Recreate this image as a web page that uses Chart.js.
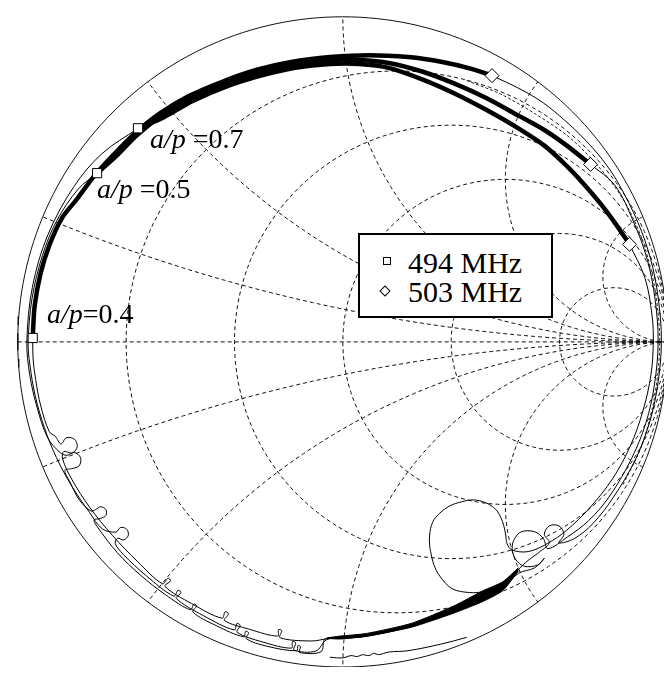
<!DOCTYPE html>
<html>
<head>
<meta charset="utf-8">
<script src="https://cdn.jsdelivr.net/npm/chart.js@4"></script>
<style>
  body { margin: 0; background: #fff; }
  #wrap { position: relative; width: 672px; height: 675px; overflow: hidden; }
  #smith { position: absolute; left: 0; top: 0; }
  .lbl { position: absolute; font-family: "Liberation Serif", "DejaVu Serif", serif; font-size: 28px; line-height: 28px; white-space: nowrap; color: #000; }
  .lbl i { font-style: italic; }
  #legend { position: absolute; left: 358px; top: 233px; width: 195px; height: 85px; box-sizing: border-box; border: 2px solid #000; background: #fff; }
  .legtxt { position: absolute; font-family: "Liberation Serif", "DejaVu Serif", serif; font-size: 30px; line-height: 30px; white-space: nowrap; }
  .mk { position: absolute; box-sizing: border-box; border: 1px solid #000; background: #fff; }
</style>
</head>
<body>
<div id="wrap">
  <canvas id="smith" width="672" height="675"></canvas>
  <div class="lbl" style="left:150px; top:125px;"><i>a/p</i> =0.7</div>
  <div class="lbl" style="left:97px; top:175px;"><i>a/p</i> =0.5</div>
  <div class="lbl" style="left:47px; top:300px;"><i>a/p</i>=0.4</div>
  <div id="legend"></div>
  <div class="mk" style="left:383px; top:257px; width:8px; height:8px;"></div>
  <div class="legtxt" style="left:408px; top:248px;">494 MHz</div>
  <div class="mk" style="left:381px; top:287px; width:8px; height:8px; transform:rotate(45deg);"></div>
  <div class="legtxt" style="left:408px; top:277px;">503 MHz</div>
</div>
<script>
// 格線：等電阻圓與等電抗圓
const resistanceValues = [0.2, 0.5, 1, 2, 5];
const reactanceValues = [0.2, 0.5, 1, 2, 5];

// 反射係數 (Re, Im)，494 MHz -> 503 MHz 的粗線段
const band04 = [
  [-0.954,0.012],[-0.948,0.111],[-0.930,0.210],[-0.903,0.297],[-0.864,0.381],[-0.819,0.438],
  [-0.765,0.510],[-0.705,0.576],[-0.639,0.642],[-0.564,0.702],[-0.474,0.756],[-0.369,0.801],
  [-0.264,0.837],[-0.159,0.861],[-0.039,0.876],[0.081,0.882],[0.201,0.876],[0.306,0.861],
  [0.396,0.840],[0.459,0.819]
];
const band05 = [
  [-0.756,0.519],[-0.699,0.570],[-0.633,0.636],[-0.558,0.696],[-0.468,0.750],[-0.363,0.795],
  [-0.258,0.828],[-0.153,0.852],[-0.039,0.867],[0.051,0.867],[0.141,0.858],[0.246,0.831],
  [0.342,0.795],[0.441,0.750],[0.540,0.696],[0.621,0.651],[0.690,0.603],[0.762,0.546]
];
const band07 = [
  [-0.630,0.657],[-0.552,0.690],[-0.462,0.741],[-0.357,0.786],[-0.252,0.819],[-0.147,0.843],
  [-0.039,0.855],[0.051,0.855],[0.141,0.843],[0.246,0.807],[0.342,0.765],[0.441,0.714],
  [0.540,0.657],[0.621,0.603],[0.690,0.540],[0.741,0.486],[0.792,0.426],[0.837,0.366],[0.882,0.300]
];

// 其餘頻率的細線 (從菱形順時針回到方形)
const tail04 = [
  [0.459,0.819],[0.545,0.778],[0.617,0.735],[0.682,0.682],[0.743,0.624],[0.799,0.560],[0.847,0.489],
  [0.908,0.367],[0.947,0.254],[0.970,0.136],[0.980,0.000],[0.968,-0.136],[0.942,-0.253],[0.899,-0.364],
  [0.831,-0.480],[0.769,-0.559],[0.712,-0.605],
  [0.665,-0.618],[0.680,-0.592],[0.665,-0.566],[0.635,-0.566],[0.620,-0.592],[0.635,-0.618],
  [0.600,-0.650],[0.570,-0.672],[0.540,-0.700],[0.492,-0.752],[0.432,-0.782],[0.342,-0.822],
  [0.210,-0.871],[0.072,-0.902],[-0.009,-0.910],[-0.048,-0.913],
  [-0.097,-0.920],[-0.193,-0.910],[-0.188,-0.888],[-0.198,-0.885],[-0.200,-0.905],[-0.287,-0.884],
  [-0.364,-0.857],[-0.352,-0.837],[-0.362,-0.830],[-0.372,-0.850],[-0.465,-0.805],[-0.547,-0.752],
  [-0.530,-0.735],[-0.538,-0.727],[-0.555,-0.744],[-0.631,-0.676],[-0.709,-0.595],[-0.780,-0.507],
  [-0.833,-0.424],[-0.862,-0.360],
  [-0.858,-0.337],[-0.833,-0.342],[-0.817,-0.322],[-0.826,-0.299],[-0.851,-0.295],[-0.867,-0.314],
  [-0.885,-0.290],[-0.903,-0.276],[-0.929,-0.198],[-0.945,-0.116],[-0.953,-0.050],[-0.954,0.012]
];
const tail05 = [
  [0.762,0.546],[0.836,0.483],[0.897,0.363],[0.937,0.251],[0.960,0.135],[0.970,0.000],[0.958,-0.135],
  [0.932,-0.250],[0.888,-0.359],[0.821,-0.474],[0.756,-0.550],[0.691,-0.600],[0.631,-0.636],
  [0.617,-0.605],[0.590,-0.584],[0.549,-0.584],[0.527,-0.608],[0.521,-0.636],[0.531,-0.668],
  [0.558,-0.690],[0.600,-0.686],[0.620,-0.665],
  [0.590,-0.695],[0.540,-0.712],[0.492,-0.758],[0.432,-0.792],[0.342,-0.828],[0.210,-0.875],
  [0.072,-0.906],[-0.009,-0.912],[-0.050,-0.916],
  [-0.083,-0.951],[-0.150,-0.948],[-0.145,-0.926],[-0.155,-0.922],[-0.158,-0.942],[-0.247,-0.923],
  [-0.325,-0.893],[-0.316,-0.872],[-0.326,-0.866],[-0.334,-0.886],[-0.429,-0.842],[-0.512,-0.789],
  [-0.498,-0.771],[-0.507,-0.764],[-0.520,-0.782],[-0.604,-0.720],[-0.676,-0.653],[-0.700,-0.620],
  [-0.693,-0.604],[-0.674,-0.609],[-0.660,-0.595],[-0.665,-0.576],[-0.684,-0.571],[-0.698,-0.585],
  [-0.740,-0.575],[-0.779,-0.525],[-0.834,-0.443],[-0.881,-0.356],[-0.918,-0.264],[-0.946,-0.167],
  [-0.963,-0.068],[-0.968,0.000],[-0.956,0.134],[-0.924,0.266],[-0.880,0.373],[-0.814,0.470],[-0.756,0.519]
];
const tail07 = [
  [0.882,0.300],[0.929,0.198],[0.951,0.083],[0.955,0.000],[0.948,-0.100],[0.923,-0.213],[0.884,-0.321],
  [0.829,-0.422],[0.759,-0.511],[0.689,-0.579],[0.630,-0.620],[0.570,-0.645],[0.520,-0.640],
  [0.505,-0.620],[0.501,-0.594],[0.495,-0.565],[0.486,-0.540],[0.470,-0.515],[0.440,-0.495],
  [0.402,-0.486],[0.365,-0.492],[0.330,-0.504],[0.298,-0.527],[0.276,-0.555],[0.267,-0.594],
  [0.267,-0.625],[0.270,-0.645],[0.280,-0.685],[0.298,-0.720],[0.336,-0.759],[0.390,-0.771],
  [0.435,-0.768],[0.470,-0.758],[0.495,-0.745],
  [0.432,-0.786],[0.342,-0.826],[0.210,-0.874],[0.072,-0.905],[-0.009,-0.912],[-0.055,-0.914],
  [-0.067,-0.953],[-0.134,-0.955],[-0.130,-0.938],[-0.138,-0.934],[-0.142,-0.950],[-0.234,-0.936],
  [-0.297,-0.913],[-0.290,-0.895],[-0.299,-0.890],[-0.305,-0.907],[-0.389,-0.873],[-0.461,-0.831],
  [-0.450,-0.812],[-0.458,-0.806],[-0.469,-0.824],[-0.545,-0.778],[-0.623,-0.717],[-0.694,-0.648],
  [-0.755,-0.569],[-0.765,-0.548],
  [-0.745,-0.543],[-0.729,-0.534],[-0.729,-0.516],[-0.745,-0.507],[-0.761,-0.516],
  [-0.775,-0.520],[-0.810,-0.487],[-0.840,-0.430],[-0.855,-0.395],
  [-0.834,-0.390],[-0.811,-0.381],[-0.807,-0.356],[-0.826,-0.340],[-0.849,-0.349],
  [-0.870,-0.340],[-0.908,-0.295],[-0.941,-0.200],[-0.963,-0.102],[-0.972,0.000],[-0.955,0.168],
  [-0.907,0.330],[-0.827,0.478],[-0.741,0.579],[-0.630,0.657]
];
// 靠近外圓的短線與虛線曲線
const rimTrace = [
  [0.381,-0.909],[0.300,-0.930],[0.200,-0.950],[0.141,-0.954],[0.110,-0.962],[0.095,-0.958],
  [0.080,-0.965],[0.060,-0.962],[0.045,-0.968],[0.025,-0.965],[0.000,-0.972],[-0.040,-0.970]
];
const dashTrace = [
  [0.381,0.804],[0.486,0.762],[0.591,0.702],[0.696,0.630],[0.786,0.540],[0.861,0.441],[0.915,0.330],
  [0.951,0.210],[0.969,0.096],[0.975,0.000],[0.969,-0.096],[0.951,-0.210],[0.915,-0.330],[0.861,-0.441]
];
// 黑色楔形區域
const wedgeTop = [
  [0.540,-0.695],[0.492,-0.738],[0.432,-0.765],[0.342,-0.812],[0.210,-0.866],[0.072,-0.897],
  [-0.009,-0.905],[-0.048,-0.911]
];
const wedgeBottom = [
  [-0.009,-0.914],[0.072,-0.905],[0.210,-0.878],[0.342,-0.834],[0.432,-0.798],[0.492,-0.765],[0.540,-0.705]
];
// 標記點
const squareMarks = [[-0.954,0.012],[-0.756,0.519],[-0.630,0.657]];
const diamondMarks = [[0.459,0.819],[0.762,0.546],[0.882,0.300]];

const toPts = arr => arr.map(p => ({ x: p[0], y: p[1] }));

// 圓上的點 (格線用)
function circlePts(cx, cy, r, a1, a2, n) {
  const pts = [];
  for (let i = 0; i <= n; i++) {
    const a = a1 + (a2 - a1) * i / n;
    pts.push({ x: cx + r * Math.cos(a), y: cy + r * Math.sin(a) });
  }
  return pts;
}

function reactanceArc(xv) {
  const cy = 1 / xv;
  const px = (xv * xv - 1) / (xv * xv + 1);
  const py = 2 * xv / (xv * xv + 1);
  let a1 = xv > 0 ? -Math.PI / 2 : Math.PI / 2;
  let a2 = Math.atan2(py - cy, px - 1);
  if (xv > 0 && a2 > a1) a2 -= 2 * Math.PI;
  if (xv < 0 && a2 < a1) a2 += 2 * Math.PI;
  return circlePts(1, cy, Math.abs(1 / xv), a1, a2, 120);
}

const gridStyle = {
  showLine: true, pointRadius: 0, borderColor: '#111', borderWidth: 1,
  borderDash: [4, 3], tension: 0, order: 3
};
const datasets = [];

resistanceValues.forEach(r => {
  datasets.push(Object.assign({ data: circlePts(r / (1 + r), 0, 1 / (1 + r), 0, 2 * Math.PI, 180) }, gridStyle));
});
reactanceValues.forEach(xv => {
  datasets.push(Object.assign({ data: reactanceArc(xv) }, gridStyle));
  datasets.push(Object.assign({ data: reactanceArc(-xv) }, gridStyle));
});
datasets.push(Object.assign({ data: [{ x: -1, y: 0 }, { x: 1, y: 0 }] }, gridStyle));

// 外圓 (|Γ| = 1)
datasets.push({
  data: circlePts(0, 0, 1, 0, 2 * Math.PI, 240),
  showLine: true, pointRadius: 0, borderColor: '#111', borderWidth: 1, tension: 0, order: 2
});

// 虛線曲線
datasets.push({
  data: toPts(dashTrace), showLine: true, pointRadius: 0, borderColor: '#222',
  borderWidth: 1, borderDash: [3, 2], tension: 0.3, order: 2
});

// 細線
[tail04, tail05, tail07, rimTrace].forEach(t => {
  datasets.push({
    data: toPts(t), showLine: true, pointRadius: 0, borderColor: '#000',
    borderWidth: 1, tension: 0.35, order: 1
  });
});

// 楔形
datasets.push({
  data: toPts(wedgeTop.concat(wedgeBottom)), showLine: true, pointRadius: 0,
  borderColor: '#000', backgroundColor: '#000', borderWidth: 1, fill: 'shape', tension: 0.2, order: 1
});

// 粗線
[band04, band05, band07].forEach(b => {
  datasets.push({
    data: toPts(b), showLine: true, pointRadius: 0, borderColor: '#000',
    borderWidth: 4.5, tension: 0.3, order: 1
  });
});

// 方形與菱形標記
datasets.push({
  data: toPts(squareMarks), pointStyle: 'rect', pointRadius: 6.5,
  backgroundColor: '#fff', borderColor: '#000', borderWidth: 1, order: 0
});
datasets.push({
  data: toPts(diamondMarks), pointStyle: 'rectRot', pointRadius: 7,
  backgroundColor: '#fff', borderColor: '#000', borderWidth: 1, order: 0
});

const ctx = document.getElementById('smith').getContext('2d');
const chart = new Chart(ctx, {
  type: 'scatter',
  data: { datasets: datasets },
  options: {
    responsive: false,
    animation: false,
    layout: { padding: 0 },
    plugins: { legend: { display: false }, tooltip: { enabled: false } },
    scales: {
      x: { type: 'linear', display: false, min: -343 / 333, max: 329 / 333 },
      y: { type: 'linear', display: false, min: -333 / 333, max: 342 / 333 }
    }
  }
});
</script>
</body>
</html>
